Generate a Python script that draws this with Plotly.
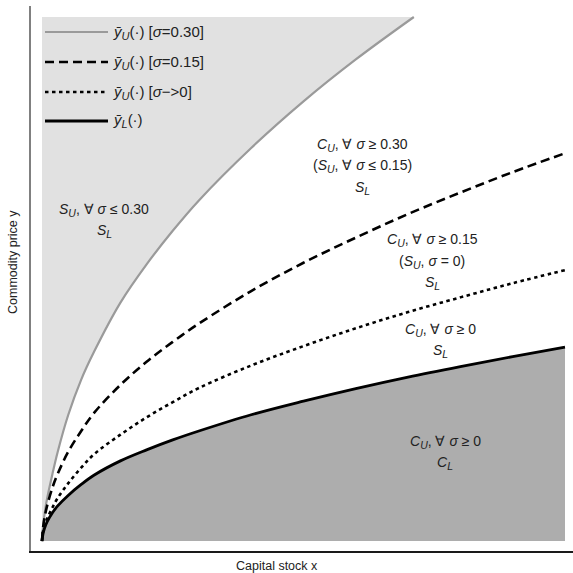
import plotly.graph_objects as go

# ---- data (x: capital stock, y: commodity price; arbitrary units) ----
x_s030 = [0, 0.02, 0.05, 0.1, 0.2, 0.3, 0.5, 0.75, 1, 1.5, 2, 2.5, 3, 4, 5, 6, 7.11]
y_s030 = [0, 0.28, 0.52, 0.82, 1.28, 1.70, 2.40, 3.08, 3.62, 4.55, 5.28, 5.92, 6.50, 7.50, 8.39, 9.19, 10.0]

x_curves = [0, 0.02, 0.05, 0.1, 0.2, 0.3, 0.5, 0.75, 1, 1.5, 2, 2.5, 3, 4, 5, 6, 7, 8, 9, 10]
y_s015 = [0, 0.25, 0.45, 0.68, 1.02, 1.28, 1.70, 2.10, 2.45, 2.98, 3.42, 3.80, 4.15, 4.77, 5.31, 5.79, 6.24, 6.65, 7.04, 7.40]
y_s0 = [0, 0.18, 0.30, 0.43, 0.64, 0.82, 1.10, 1.40, 1.66, 2.03, 2.36, 2.65, 2.92, 3.35, 3.72, 4.06, 4.37, 4.65, 4.92, 5.17]
y_low = [0, 0.14, 0.25, 0.37, 0.54, 0.67, 0.87, 1.08, 1.26, 1.53, 1.74, 1.93, 2.10, 2.41, 2.67, 2.91, 3.13, 3.33, 3.52, 3.70]

X_MAX = 10.0
Y_MAX = 10.0

def sub(t, size):
    return "<sub><span style='font-size:%spx'><i>%s</i></span></sub>" % (size, t)

legend_labels = [
    "<i>ȳ</i>" + sub("U", 11) + "(·) [<i>σ</i>=0.30]",
    "<i>ȳ</i>" + sub("U", 11) + "(·) [<i>σ</i>=0.15]",
    "<i>ȳ</i>" + sub("U", 11) + "(·) [<i>σ</i>−>0]",
    "<i>ȳ</i>" + sub("L", 11) + "(·)",
]

SU = "<i>S</i>" + sub("U", 10.5)
SL = "<i>S</i>" + sub("L", 10.5)
CU = "<i>C</i>" + sub("U", 10.5)
CL = "<i>C</i>" + sub("L", 10.5)
region_labels = [
    (1.19, [SU + ", ∀ <i>σ</i> ≤ 0.30", SL]),
    (6.12, [CU + ", ∀ <i>σ</i> ≥ 0.30", "(" + SU + ", ∀ <i>σ</i> ≤ 0.15)", SL]),
    (7.46, [CU + ", ∀ <i>σ</i> ≥ 0.15", "(" + SU + ", <i>σ</i> = 0)", SL]),
    (7.61, [CU + ", ∀ <i>σ</i> ≥ 0", SL]),
    (7.71, [CU + ", ∀ <i>σ</i> ≥ 0", CL]),
]
region_label_top_y = [6.32, 7.56, 5.74, 4.03, 1.89]

W = H = 573
ML, MR, MT, MB = 31, 0, 6, 22
PW = W - ML - MR
PH = H - MT - MB

def px(xp):
    return (xp - ML) / PW

def py(yp):
    return (H - MB - yp) / PH

FONT = "Liberation Sans, Arial, sans-serif"
TXT = "#222222"

fig = go.Figure()

# light region above sigma=0.30 boundary
fig.add_trace(go.Scatter(
    x=x_s030 + [0], y=y_s030 + [Y_MAX], mode="lines", fill="toself",
    fillcolor="#e1e1e1", line=dict(width=0), hoverinfo="skip", showlegend=False))
# dark region below lower boundary
fig.add_trace(go.Scatter(
    x=x_curves + [X_MAX, 0], y=y_low + [0, 0], mode="lines", fill="toself",
    fillcolor="#adadad", line=dict(width=0), hoverinfo="skip", showlegend=False))

fig.add_trace(go.Scatter(x=x_s030, y=y_s030, mode="lines", line=dict(color="#9a9a9a", width=2.2, shape="spline"), showlegend=False))
fig.add_trace(go.Scatter(x=x_curves, y=y_s015, mode="lines", line=dict(color="#000000", width=2.6, dash="9px,5px", shape="spline"), showlegend=False))
fig.add_trace(go.Scatter(x=x_curves, y=y_s0, mode="lines", line=dict(color="#000000", width=2.6, dash="3.5px,3.5px", shape="spline"), showlegend=False))
fig.add_trace(go.Scatter(x=x_curves, y=y_low, mode="lines", line=dict(color="#000000", width=2.8, shape="spline"), showlegend=False))

annotations = []
for (xc, lines), ytop in zip(region_labels, region_label_top_y):
    for i, t in enumerate(lines):
        annotations.append(dict(x=xc, y=ytop - i * 0.41, xref="x", yref="y", text=t,
                                showarrow=False, font=dict(family=FONT, size=14, color=TXT),
                                xanchor="center", yanchor="middle"))

# manual legend
legend_styles = [
    dict(color="#9a9a9a", width=2.2, dash="solid"),
    dict(color="#000000", width=2.6, dash="9px,5px"),
    dict(color="#000000", width=2.6, dash="3.5px,3.5px"),
    dict(color="#000000", width=2.8, dash="solid"),
]
legend_y = [32, 62, 92, 121]
shapes = []
for lab, st, ly in zip(legend_labels, legend_styles, legend_y):
    shapes.append(dict(type="line", xref="paper", yref="paper", x0=px(45), x1=px(108), y0=py(ly), y1=py(ly), line=st))
    annotations.append(dict(x=px(111), y=py(ly), xref="paper", yref="paper", text=lab, showarrow=False,
                            font=dict(family=FONT, size=15, color=TXT), xanchor="left", yanchor="middle"))

annotations.append(dict(x=px(277), y=py(566), xref="paper", yref="paper", text="Capital stock x", showarrow=False,
                        font=dict(family=FONT, size=12.5, color=TXT), xanchor="center", yanchor="middle"))
annotations.append(dict(x=px(13), y=py(262), xref="paper", yref="paper", text="Commodity price y", showarrow=False,
                        textangle=-90, font=dict(family=FONT, size=12.5, color=TXT), xanchor="center", yanchor="middle"))

fig.update_layout(
    width=W, height=H,
    margin=dict(l=ML, r=MR, t=MT, b=MB),
    plot_bgcolor="white", paper_bgcolor="white",
    showlegend=False,
    annotations=annotations, shapes=shapes,
    xaxis=dict(range=[-0.21, 10.153], showgrid=False, zeroline=False, showticklabels=False, ticks="",
               showline=True, linecolor="#1a1a1a", linewidth=2),
    yaxis=dict(range=[-0.19, 10.21], showgrid=False, zeroline=False, showticklabels=False, ticks="",
               showline=True, linecolor="#808080", linewidth=2),
)

fig.write_html("out.html", config={"displayModeBar": False},
               post_script="document.body.style.margin='0';document.body.style.overflow='hidden';")
